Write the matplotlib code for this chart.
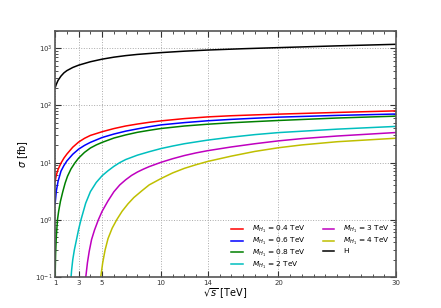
import numpy as np
import matplotlib
matplotlib.use('Agg')
import matplotlib.pyplot as plt
from matplotlib.ticker import FixedLocator, MultipleLocator, LogLocator

## Values (sqrt(s) in TeV, sigma in fb)
x_04 = [1.0, 1.1, 1.25, 1.5, 1.75, 2.0, 2.5, 3.0, 3.5, 4.0, 5.0, 6.0, 7.0, 8.0, 9.0,
        10.0, 12.0, 14.0, 16.0, 18.0, 20.0, 25.0, 30.0]
y_04 = [4.7, 6.0, 7.6, 9.8, 12.0, 14.1, 18.6, 22.9, 26.6, 29.9, 34.7, 39.4, 43.7, 47.3, 50.7,
        53.7, 58.9, 63.1, 66.1, 68.4, 70.5, 75.5, 80.4]

x_06 = [1.0, 1.1, 1.25, 1.5, 1.75, 2.0, 2.5, 3.0, 3.5, 4.0, 5.0, 6.0, 7.0, 8.0, 9.0,
        10.0, 12.0, 14.0, 16.0, 18.0, 20.0, 25.0, 30.0]
y_06 = [1.9, 3.16, 4.7, 7.1, 8.9, 10.7, 14.0, 17.2, 20.0, 22.6, 27.5, 31.6, 35.5, 38.9, 42.4,
        45.7, 50.1, 54.0, 57.1, 59.8, 62.4, 67.0, 70.8]

x_08 = [0.99, 1.04, 1.1, 1.2, 1.3, 1.45, 1.65, 1.85, 2.05, 2.35, 2.7, 3.0, 3.5, 4.0, 4.5,
        5.0, 6.0, 7.0, 8.0, 9.0, 10.0, 12.0, 14.0, 16.0, 18.0, 20.0, 25.0, 30.0]
y_08 = [0.08, 0.25, 0.5, 1.0, 1.41, 2.09, 3.09, 4.37, 5.75, 7.76, 10.0, 12.0, 15.1, 18.0, 20.4,
        22.6, 26.9, 30.5, 33.9, 36.7, 39.5, 43.7, 47.0, 49.8, 52.2, 54.6, 60.3, 65.0]

x_2 = [2.3, 2.4, 2.5, 2.64, 2.8, 3.0, 3.2, 3.6, 4.0, 4.5, 5.0, 5.5, 6.0, 6.5, 7.0,
       8.0, 9.0, 10.0, 11.0, 12.0, 14.0, 16.0, 18.0, 20.0, 25.0, 30.0]
y_2 = [0.07, 0.13, 0.2, 0.3, 0.43, 0.68, 1.0, 1.95, 3.1, 4.5, 5.9, 7.2, 8.6, 10.0, 11.3,
       13.5, 15.5, 17.6, 19.5, 21.4, 24.8, 27.9, 30.9, 33.5, 38.5, 43.0]

x_3 = [3.55, 3.61, 3.75, 3.9, 4.1, 4.35, 4.68, 5.0, 5.5, 6.0, 6.5, 7.0, 7.5, 8.0, 8.5,
       9.0, 10.0, 11.0, 12.0, 13.0, 14.0, 16.0, 18.0, 20.0, 22.0, 25.0, 30.0]
y_3 = [0.05, 0.1, 0.178, 0.28, 0.45, 0.66, 1.0, 1.41, 2.14, 3.09, 4.07, 5.0, 5.96, 6.84, 7.67,
       8.5, 10.1, 11.7, 13.3, 14.8, 16.2, 18.8, 21.4, 24.0, 26.3, 29.2, 33.6]

x_4 = [4.82, 4.88, 5.05, 5.25, 5.5, 5.85, 6.24, 6.7, 7.2, 7.7, 8.37, 9.0, 10.0, 11.0,
       12.0, 13.0, 14.0, 16.0, 18.0, 20.0, 22.0, 25.0, 30.0]
y_4 = [0.05, 0.1, 0.178, 0.295, 0.468, 0.71, 1.0, 1.41, 1.9, 2.45, 3.2, 4.07, 5.25, 6.6,
       7.94, 9.2, 10.5, 13.0, 15.7, 18.2, 20.4, 23.2, 26.7]

x_h = [1.0, 1.1, 1.25, 1.5, 1.75, 2.0, 2.5, 3.0, 4.0, 5.0, 6.0, 7.0, 8.0, 10.0,
       12.0, 14.0, 17.0, 20.0, 25.0, 30.0]
y_h = [204, 234, 275, 327, 372, 407, 462, 507, 582, 646, 700, 745, 782, 841,
       891, 933, 984, 1028, 1104, 1175]

series = [(x_04, y_04, 'r', r'$M_{H_1}$ = 0.4 TeV'),
          (x_06, y_06, 'b', r'$M_{H_1}$ = 0.6 TeV'),
          (x_08, y_08, 'g', r'$M_{H_1}$ = 0.8 TeV'),
          (x_2, y_2, 'c', r'$M_{H_1}$ = 2 TeV'),
          (x_3, y_3, 'm', r'$M_{H_1}$ = 3 TeV'),
          (x_4, y_4, 'y', r'$M_{H_1}$ = 4 TeV'),
          (x_h, y_h, 'k', 'H')]

x_ticks = [1, 3, 5, 10, 14, 20, 30]

## Graphical output
fig, ax = plt.subplots(figsize=(4.41, 3.08), dpi=100)
fig.subplots_adjust(left=0.125, right=0.898, bottom=0.101, top=0.899)

for xs, ys, col, lab in series:
    ax.plot(xs, ys, color=col, lw=1.1, label=lab)

ax.set_yscale('log')
ax.set_xlim([1, 30])
ax.set_ylim([0.1, 2000])
ax.xaxis.set_major_locator(FixedLocator(x_ticks))
ax.xaxis.set_minor_locator(MultipleLocator(1))
ax.yaxis.set_major_locator(LogLocator(base=10))
ax.yaxis.set_minor_locator(LogLocator(base=10, subs=np.arange(2, 10)))
ax.tick_params(which='both', direction='in', top=True, right=True,
               labelsize=5, colors='#333333', pad=2)
ax.tick_params(which='major', length=4, width=0.8)
ax.tick_params(which='minor', length=2, width=0.6)
for sp in ax.spines.values():
    sp.set_color('#555555')
    sp.set_linewidth(1.2)
ax.grid(True, which='major', color='#aaaaaa', ls=':', lw=0.7)

ax.set_xlabel(r'$\sqrt{s}$ [TeV]', fontsize=7, labelpad=1)
ax.set_ylabel(r'$\sigma$ [fb]', fontsize=7, labelpad=3)

ax.legend(loc='lower right', ncol=2, frameon=False, fontsize=5.3,
          handlelength=1.6, handletextpad=1.2, columnspacing=2.3,
          labelspacing=0.12, borderaxespad=0.4)

plt.savefig('out.png', dpi=100)
